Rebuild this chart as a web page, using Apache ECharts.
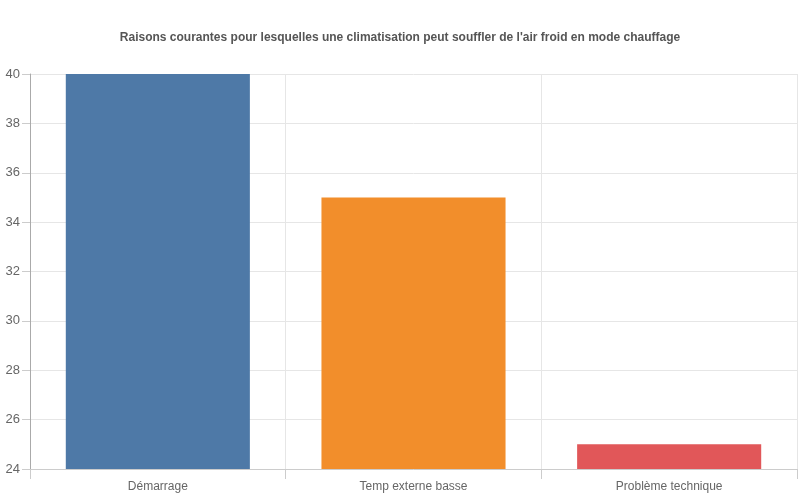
<!DOCTYPE html>
<html>
<head>
<meta charset="utf-8">
<script src="https://cdn.jsdelivr.net/npm/echarts@6/dist/echarts.min.js"></script>
<style>
  html, body { margin: 0; padding: 0; background: #fff; }
  #chart { width: 800px; height: 500px; }
</style>
</head>
<body>
<div id="chart"></div>
<script>
const categories = ["Démarrage", "Temp externe basse", "Problème technique"];
const values = [40, 35, 25];
const barColors = ["#4e79a7", "#f28e2b", "#e15759"];

const chart = echarts.init(document.querySelector("#chart"));

chart.setOption({
  animation: false,
  title: {
    text: "Raisons courantes pour lesquelles une climatisation peut souffler de l'air froid en mode chauffage",
    left: "center",
    top: 27,
    textStyle: {
      fontFamily: "Liberation Sans",
      fontSize: 12,
      fontWeight: "bold",
      color: "#555"
    }
  },
  grid: { left: 30, right: 3, top: 74, bottom: 31 },
  xAxis: {
    type: "category",
    data: categories,
    axisLine: { lineStyle: { color: "#ccc" } },
    axisTick: { show: true, length: 10, lineStyle: { color: "#ccc" } },
    axisLabel: { color: "#666", fontFamily: "Liberation Sans", fontSize: 12, margin: 12 },
    splitLine: { show: true, lineStyle: { color: "#e6e6e6" } }
  },
  yAxis: {
    type: "value",
    min: 24,
    max: 40,
    interval: 2,
    axisLine: { show: true, lineStyle: { color: "#aaa" } },
    axisTick: { show: true, length: 8, lineStyle: { color: "#ccc" } },
    axisLabel: { color: "#666", fontFamily: "Liberation Sans", fontSize: 13, margin: 10 },
    splitLine: { show: true, lineStyle: { color: "#e6e6e6" } }
  },
  series: [
    {
      type: "bar",
      barWidth: "72%",
      data: values.map((v, i) => ({ value: v, itemStyle: { color: barColors[i] } }))
    }
  ]
});
</script>
</body>
</html>
